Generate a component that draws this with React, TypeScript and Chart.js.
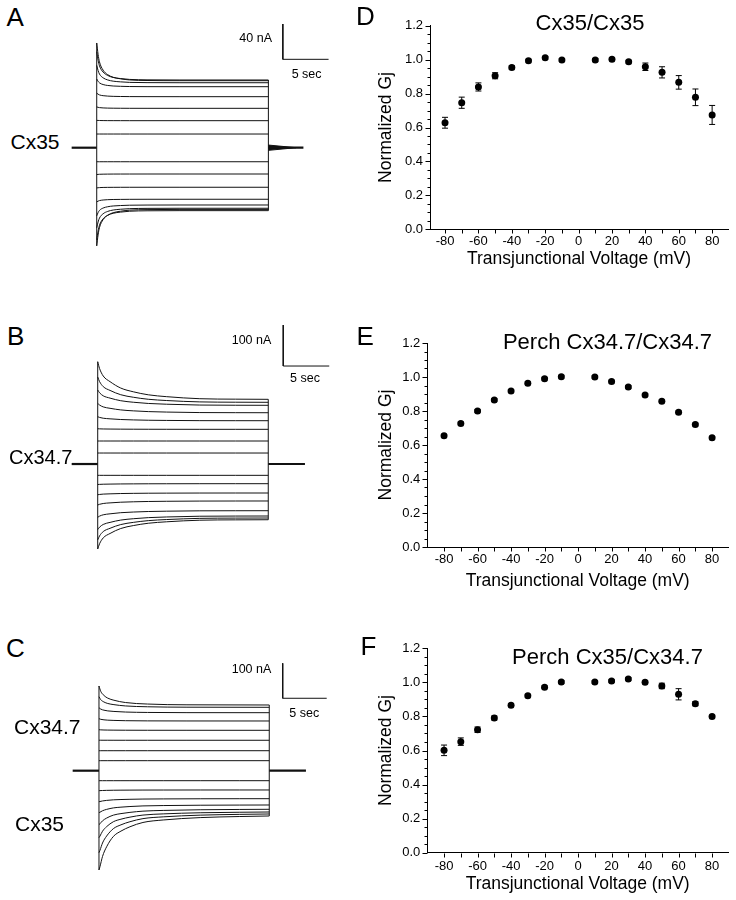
import React, { useEffect, useRef } from "react";
import { Chart, registerables } from "chart.js";
Chart.register(...registerables);

const FONT = "'Liberation Sans', Arial, Helvetica, sans-serif";
const INK = "#111111";

// ---------------- Panels D–F: normalized Gj vs Vj ----------------
const VOLTAGES = [-80, -70, -60, -50, -40, -30, -20, -10, 10, 20, 30, 40, 50, 60, 70, 80];
const D_GJ = [0.628, 0.746, 0.839, 0.905, 0.954, 0.994, 1.011, 0.998, 0.998, 1.002, 0.988, 0.958, 0.925, 0.866, 0.778, 0.674];
const D_ERR = [0.032, 0.033, 0.024, 0.018, 0.01, 0.008, 0.008, 0.008, 0.008, 0.008, 0.008, 0.022, 0.033, 0.04, 0.049, 0.056];
const E_GJ = [0.655, 0.727, 0.8, 0.865, 0.918, 0.963, 0.99, 1.002, 1.0, 0.973, 0.941, 0.894, 0.857, 0.792, 0.72, 0.643];
const E_ERR = [0.008, 0.008, 0.008, 0.008, 0.008, 0.008, 0.008, 0.008, 0.008, 0.008, 0.008, 0.008, 0.008, 0.008, 0.008, 0.008];
const F_GJ = [0.601, 0.652, 0.722, 0.791, 0.865, 0.922, 0.971, 1.002, 1.002, 1.008, 1.02, 1.0, 0.979, 0.93, 0.875, 0.799];
const F_ERR = [0.031, 0.022, 0.016, 0.012, 0.008, 0.008, 0.008, 0.008, 0.008, 0.008, 0.008, 0.008, 0.016, 0.033, 0.012, 0.008];

const X_LABEL_TICKS = [-80, -60, -40, -20, 0, 20, 40, 60, 80];
const X_MINOR_TICKS = [-70, -50, -30, -10, 10, 30, 50, 70];
const Y_LABEL_TICKS = [0, 0.2, 0.4, 0.6, 0.8, 1.0, 1.2];
const Y_MINOR_TICKS = [0.05, 0.1, 0.15, 0.25, 0.3, 0.35, 0.45, 0.5, 0.55, 0.65, 0.7, 0.75, 0.85, 0.9, 0.95, 1.05, 1.1, 1.15];

// ---------------- Panels A–C: current traces (nA vs s) ----------------
// A: Cx35/Cx35
const A_PEAK = [15.5, 31, 46.2, 61.8, 77.8, 93.3, 108.7, 118.6, -15.9, -30.4, -45.6, -61.4, -77.2, -90.8, -104.4, -111.2];
const A_STEADY = [15.5, 30.6, 44.6, 57.8, 69.1, 73.6, 76.7, 75.9, -15.9, -29.8, -44.8, -58.4, -64.9, -68.6, -71.3, -69.9];
const A_DECAY_T = [0, 0.15, 0.3, 0.7, 1.2, 1.8, 2.6, 3.6, 5.5, 9, 18.77];
const A_DECAY_F = [1, 0.7, 0.5, 0.28, 0.16, 0.09, 0.05, 0.02, 0.005, 0, 0];
const A_SCALE_T = [20.35, 20.35, 25.35];
const A_SCALE_I = [140.1, 100.1, 100.1];
const A_TAIL_T = [18.77, 21.8, 18.77];
const A_TAIL_I = [3, 0, -3];

// B: Cx34.7/Cx34.7
const B_PEAK = [26.8, 56.1, 86, 115.4, 148, 180.5, 212.2, 249.5, -27.6, -50, -75, -100, -130, -160, -185, -207.3];
const B_STEADY = [26.8, 56.1, 84.6, 105.6, 125.1, 143.2, 150.5, 157.8, -27.6, -48, -70.7, -90.2, -113.9, -126.8, -131.7, -135.9];
const B_DECAY_T = [0, 0.2, 0.6, 1.34, 2.5, 3.87, 5.5, 7.5, 11.1, 15, 18.54];
const B_DECAY_F = [1, 0.82, 0.62, 0.47, 0.3, 0.2, 0.12, 0.07, 0.016, 0.004, 0];
const B_SCALE_T = [20.17, 20.17, 25.17];
const B_SCALE_I = [339, 239, 239];

// C: Cx35/Cx34.7
const C_PEAK = [28.6, 57.1, 87.1, 117.1, 148.6, 180, 211.4, 242, -28.6, -57.1, -88.6, -120, -154.3, -191.4, -234.3, -283.7];
const C_STEADY = [28.6, 57.1, 86.9, 115.4, 142, 165.7, 181.1, 187.7, -28.6, -55.1, -80, -98, -110.3, -118, -123.7, -129.4];
const C_UP_DECAY_T = [0, 0.2, 0.57, 1.0, 1.7, 3, 5.5, 10, 19.35];
const C_UP_DECAY_F = [1, 0.72, 0.5, 0.36, 0.25, 0.13, 0.05, 0.01, 0];
const C_DN_DECAY_T = [0, 0.11, 0.4, 0.87, 1.63, 2.5, 3.52, 5, 7.3, 11.5, 16, 19.35];
const C_DN_DECAY_F = [1, 0.94, 0.75, 0.57, 0.38, 0.28, 0.2, 0.12, 0.074, 0.03, 0.01, 0];
const C_SCALE_T = [20.88, 20.88, 25.88];
const C_SCALE_I = [306.9, 206.9, 206.9];

type TraceSpec = {
  peak: number[]; steady: number[];
  upT: number[]; upF: number[]; dnT: number[]; dnF: number[];
  tPre: number; tEnd: number; tPost: number;
  tMin: number; tMax: number; iMin: number; iMax: number;
  scaleT: number[]; scaleI: number[];
  tailT?: number[]; tailI?: number[];
};

const TRACE_A: TraceSpec = {
  peak: A_PEAK, steady: A_STEADY, upT: A_DECAY_T, upF: A_DECAY_F, dnT: A_DECAY_T, dnF: A_DECAY_F,
  tPre: -2.74, tEnd: 18.77, tPost: 22.6, tMin: -4.015, tMax: 26.6, iMin: -127.2, iMax: 167.3,
  scaleT: A_SCALE_T, scaleI: A_SCALE_I, tailT: A_TAIL_T, tailI: A_TAIL_I,
};
const TRACE_B: TraceSpec = {
  peak: B_PEAK, steady: B_STEADY, upT: B_DECAY_T, upF: B_DECAY_F, dnT: B_DECAY_T, dnF: B_DECAY_F,
  tPre: -2.83, tEnd: 18.54, tPost: 22.53, tMin: -4.1, tMax: 26.34, iMin: -234.1, iMax: 448.8,
  scaleT: B_SCALE_T, scaleI: B_SCALE_I,
};
const TRACE_C: TraceSpec = {
  peak: C_PEAK, steady: C_STEADY, upT: C_UP_DECAY_T, upF: C_UP_DECAY_F, dnT: C_DN_DECAY_T, dnF: C_DN_DECAY_F,
  tPre: -2.99, tEnd: 19.35, tPost: 23.52, tMin: -4.43, tMax: 27.39, iMin: -340.9, iMax: 487.7,
  scaleT: C_SCALE_T, scaleI: C_SCALE_I,
};

type Box = { left: number; top: number; width: number; height: number };

function TraceChart({ spec, box }: { spec: TraceSpec; box: Box }) {
  const ref = useRef<HTMLCanvasElement>(null);
  useEffect(() => {
    if (!ref.current) return;
    const line = { pointRadius: 0, borderColor: INK, borderWidth: 1, fill: false, tension: 0 };
    const datasets: any[] = [];
    spec.peak.forEach((pk, i) => {
      const ss = spec.steady[i];
      const T = pk >= 0 ? spec.upT : spec.dnT;
      const F = pk >= 0 ? spec.upF : spec.dnF;
      datasets.push({
        ...line,
        cubicInterpolationMode: "monotone",
        data: T.map((t, k) => ({ x: t, y: ss + (pk - ss) * F[k] })),
      });
    });
    datasets.push({ ...line, data: [{ x: 0, y: Math.min(...spec.peak) }, { x: 0, y: Math.max(...spec.peak) }] });
    datasets.push({ ...line, data: [{ x: spec.tEnd, y: Math.min(...spec.steady) }, { x: spec.tEnd, y: Math.max(...spec.steady) }] });
    datasets.push({ ...line, borderWidth: 2.2, data: [{ x: spec.tPre, y: 0 }, { x: 0, y: 0 }] });
    datasets.push({ ...line, borderWidth: 2.2, data: [{ x: spec.tEnd, y: 0 }, { x: spec.tPost, y: 0 }] });
    if (spec.tailT && spec.tailI) {
      const ti = spec.tailI;
      datasets.push({
        ...line, fill: "shape", backgroundColor: INK,
        data: spec.tailT.map((t, k) => ({ x: t, y: ti[k] })),
      });
    }
    datasets.push({ ...line, data: spec.scaleT.map((t, k) => ({ x: t, y: spec.scaleI[k] })) });

    const chart = new Chart(ref.current, {
      type: "line",
      data: { datasets },
      options: {
        animation: false,
        responsive: false,
        events: [],
        layout: { padding: 0 },
        plugins: { legend: { display: false }, tooltip: { enabled: false } },
        scales: {
          x: { type: "linear", display: false, min: spec.tMin, max: spec.tMax },
          y: { type: "linear", display: false, min: spec.iMin, max: spec.iMax },
        },
      } as any,
    });
    return () => chart.destroy();
  }, [spec]);
  return (
    <canvas
      ref={ref}
      width={box.width}
      height={box.height}
      style={{ position: "absolute", left: box.left, top: box.top, width: box.width, height: box.height }}
    />
  );
}

type GjSpec = {
  gj: number[]; err: number[]; xMin: number; xMax: number;
  yAxisWidth: number; xAxisHeight: number; padTop: number; padRight: number;
  tickPadX: number; titlePadX: number;
};

const errorBarsPlugin = {
  id: "errorBars",
  afterDatasetsDraw(chart: any) {
    const { ctx } = chart;
    const xs = chart.scales.x;
    const ys = chart.scales.y;
    ctx.save();
    ctx.strokeStyle = "#000";
    ctx.lineWidth = 1;
    chart.data.datasets.forEach((ds: any) => {
      if (!ds.errorBars) return;
      ds.data.forEach((p: any, i: number) => {
        const e = ds.errorBars[i];
        const px = xs.getPixelForValue(p.x);
        const y1 = ys.getPixelForValue(p.y + e);
        const y2 = ys.getPixelForValue(p.y - e);
        ctx.beginPath();
        ctx.moveTo(px, y1); ctx.lineTo(px, y2);
        ctx.moveTo(px - 3, y1); ctx.lineTo(px + 3, y1);
        ctx.moveTo(px - 3, y2); ctx.lineTo(px + 3, y2);
        ctx.stroke();
      });
    });
    ctx.restore();
  },
};

const axisTicksPlugin = {
  id: "axisTicks",
  afterDraw(chart: any) {
    const { ctx, chartArea: a } = chart;
    const xs = chart.scales.x;
    const ys = chart.scales.y;
    ctx.save();
    ctx.strokeStyle = "#000";
    ctx.lineWidth = 1;
    ctx.beginPath();
    const L = Math.round(a.left) + 0.5;
    const B = Math.round(a.bottom) + 0.5;
    Y_LABEL_TICKS.forEach((v) => {
      const py = Math.round(ys.getPixelForValue(v)) + 0.5;
      ctx.moveTo(L - 5, py); ctx.lineTo(L, py);
    });
    Y_MINOR_TICKS.forEach((v) => {
      const py = Math.round(ys.getPixelForValue(v)) + 0.5;
      ctx.moveTo(L - 3, py); ctx.lineTo(L, py);
    });
    [...X_LABEL_TICKS, ...X_MINOR_TICKS].forEach((v) => {
      const px = Math.round(xs.getPixelForValue(v)) + 0.5;
      ctx.moveTo(px, B); ctx.lineTo(px, B + 4);
    });
    ctx.stroke();
    ctx.restore();
  },
};

function GjChart({ spec, box }: { spec: GjSpec; box: Box }) {
  const ref = useRef<HTMLCanvasElement>(null);
  useEffect(() => {
    if (!ref.current) return;
    const chart = new Chart(ref.current, {
      type: "scatter",
      data: {
        datasets: [
          {
            data: VOLTAGES.map((v, i) => ({ x: v, y: spec.gj[i] })),
            errorBars: spec.err,
            pointRadius: 3.5,
            pointBackgroundColor: "#000",
            pointBorderColor: "#000",
            pointBorderWidth: 0,
          } as any,
        ],
      },
      options: {
        animation: false,
        responsive: false,
        events: [],
        layout: { padding: { top: spec.padTop, right: spec.padRight, left: 0, bottom: 0 } },
        plugins: { legend: { display: false }, tooltip: { enabled: false }, title: { display: false } },
        scales: {
          x: {
            type: "linear",
            min: spec.xMin,
            max: spec.xMax,
            grid: { display: false, drawTicks: false, tickLength: 0 },
            border: { display: true, color: "#000", width: 1 },
            ticks: {
              color: "#000",
              font: { family: FONT, size: 13 },
              padding: spec.tickPadX,
              maxRotation: 0,
              autoSkip: false,
              callback: (v: any) => String(v),
            },
            afterBuildTicks: (s: any) => {
              s.ticks = X_LABEL_TICKS.map((v) => ({ value: v }));
            },
            afterFit: (s: any) => {
              s.height = spec.xAxisHeight;
            },
            title: {
              display: true,
              text: "Transjunctional Voltage (mV)",
              color: "#000",
              font: { family: FONT, size: 17.5 },
              padding: { top: 0, bottom: spec.titlePadX },
            },
          },
          y: {
            type: "linear",
            min: 0,
            max: 1.2,
            grid: { display: false, drawTicks: false, tickLength: 0 },
            border: { display: true, color: "#000", width: 1 },
            ticks: {
              color: "#000",
              font: { family: FONT, size: 13 },
              padding: 7,
              autoSkip: false,
              callback: (v: any) => Number(v).toFixed(1),
            },
            afterBuildTicks: (s: any) => {
              s.ticks = Y_LABEL_TICKS.map((v) => ({ value: v }));
            },
            afterFit: (s: any) => {
              s.width = spec.yAxisWidth;
            },
            title: {
              display: true,
              text: "Normalized Gj",
              color: "#000",
              font: { family: FONT, size: 17.5 },
              padding: { top: 35.3, bottom: 0 },
            },
          },
        },
      } as any,
      plugins: [errorBarsPlugin, axisTicksPlugin],
    });
    return () => chart.destroy();
  }, [spec]);
  return (
    <canvas
      ref={ref}
      width={box.width}
      height={box.height}
      style={{ position: "absolute", left: box.left, top: box.top, width: box.width, height: box.height }}
    />
  );
}

const GJ_D: GjSpec = { gj: D_GJ, err: D_ERR, xMin: -89, xMax: 89.5, yAxisWidth: 90, xAxisHeight: 60.7, padTop: 25.7, padRight: 8, tickPadX: 4, titlePadX: 20.5 };
const GJ_E: GjSpec = { gj: E_GJ, err: E_ERR, xMin: -90, xMax: 89.5, yAxisWidth: 87.3, xAxisHeight: 53, padTop: 43, padRight: 8, tickPadX: 5, titlePadX: 8.5 };
const GJ_F: GjSpec = { gj: F_GJ, err: F_ERR, xMin: -90, xMax: 89.5, yAxisWidth: 87.3, xAxisHeight: 47.3, padTop: 48.3, padRight: 8, tickPadX: 6, titlePadX: 5.5 };

type Label = { text: string; x?: number; cx?: number; base: number; size: number };
const LABELS: Label[] = [
  { text: "A", x: 6.5, base: 26, size: 26 },
  { text: "B", x: 7, base: 345, size: 26 },
  { text: "C", x: 6, base: 657, size: 26 },
  { text: "D", x: 356, base: 25.5, size: 26 },
  { text: "E", x: 356.5, base: 345.5, size: 26 },
  { text: "F", x: 360.5, base: 655, size: 26 },
  { text: "Cx35", x: 10.5, base: 148.3, size: 21 },
  { text: "Cx34.7", x: 9, base: 464, size: 20 },
  { text: "Cx34.7", x: 14, base: 733.3, size: 21 },
  { text: "Cx35", x: 15, base: 830.7, size: 21 },
  { text: "40 nA", x: 239.3, base: 42.7, size: 12.5 },
  { text: "5 sec", x: 291.7, base: 79, size: 12.5 },
  { text: "100 nA", x: 231.7, base: 345, size: 12.5 },
  { text: "5 sec", x: 290, base: 382.7, size: 12.5 },
  { text: "100 nA", x: 231.7, base: 674, size: 12.5 },
  { text: "5 sec", x: 289.3, base: 717.7, size: 12.5 },
  { text: "Cx35/Cx35", cx: 590, base: 30.7, size: 22 },
  { text: "Perch Cx34.7/Cx34.7", cx: 607.5, base: 349.3, size: 22 },
  { text: "Perch Cx35/Cx34.7", cx: 607.5, base: 665, size: 22 },
];

function Txt({ l }: { l: Label }) {
  const style: React.CSSProperties = {
    position: "absolute",
    top: l.base - 0.8465 * l.size,
    fontSize: l.size,
    lineHeight: 1,
    fontFamily: FONT,
    color: "#000",
    whiteSpace: "nowrap",
  };
  if (l.cx !== undefined) {
    style.left = l.cx;
    style.transform = "translateX(-50%)";
  } else {
    style.left = l.x;
  }
  return <div style={style}>{l.text}</div>;
}

export default function App() {
  return (
    <div
      style={{
        position: "absolute",
        left: 0,
        top: 0,
        width: 736,
        height: 900,
        overflow: "hidden",
        background: "#fff",
      }}
    >
      <TraceChart spec={TRACE_A} box={{ left: 60, top: 0, width: 280, height: 260 }} />
      <TraceChart spec={TRACE_B} box={{ left: 60, top: 280, width: 280, height: 280 }} />
      <TraceChart spec={TRACE_C} box={{ left: 60, top: 600, width: 280, height: 290 }} />
      <GjChart spec={GJ_D} box={{ left: 340, top: 0, width: 396, height: 290 }} />
      <GjChart spec={GJ_E} box={{ left: 340, top: 300, width: 396, height: 300 }} />
      <GjChart spec={GJ_F} box={{ left: 340, top: 600, width: 396, height: 300 }} />
      {LABELS.map((l, i) => (
        <Txt key={i} l={l} />
      ))}
    </div>
  );
}
